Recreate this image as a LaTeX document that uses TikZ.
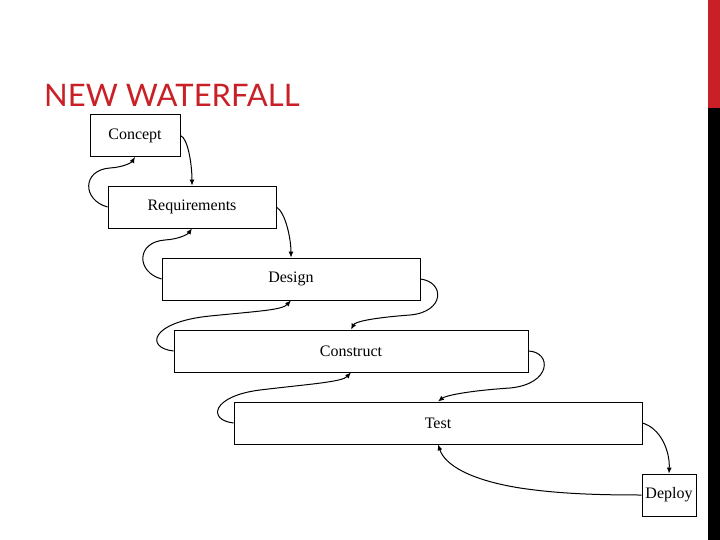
\documentclass[tikz,border=0pt]{standalone}
\usepackage{fontspec}
\setmainfont{Liberation Serif}
\newfontfamily\titlefont{Lato}
\usetikzlibrary{arrows.meta}
\definecolor{titlered}{RGB}{200,32,38}
\begin{document}
\begin{tikzpicture}[x=1pt,y=-1pt,
  stage/.style={draw,line width=0.8pt,minimum height=42pt,inner sep=0pt,font=\fontsize{16}{18}\selectfont},
  flow/.style={line width=1pt,-{Latex[length=6pt,width=5pt]}}]
\useasboundingbox (0,0) rectangle (720,540);
\fill[titlered] (708,0) rectangle (720,108);
\fill[black] (708,108) rectangle (720,540);
\node[anchor=base west,text=titlered,inner sep=0pt,font=\titlefont\fontsize{31}{34}\selectfont] (title) at (44,107) {NEW WATERFALL};
\node[stage,minimum width=90pt] (c) at (135,135.5) {Concept};
\node[stage,minimum width=168pt] (r) at (192,207) {Requirements};
\node[stage,minimum width=258pt] (d) at (291,279) {Design};
\node[stage,minimum width=354pt] (k) at (351,351) {Construct};
\node[stage,minimum width=408pt] (t) at (438,423) {Test};
\node[stage,minimum width=54pt] (p) at (669,495) {Deploy};
% forward
\draw[flow] (c.east) .. controls (188,138) and (192,165) .. (r.north);
\draw[flow] (r.east) .. controls (286,213) and (291,240) .. (d.north);
\draw[flow] (d.east) .. controls (445,282) and (445,312) .. (410,315) .. controls (370,318) and (355,322) .. (k.north);
\draw[flow] (k.east) .. controls (552,352) and (552,384) .. (510,388) .. controls (465,391) and (445,396) .. (t.north);
\draw[flow] (t.east) .. controls (660,428) and (670,450) .. (p.north);
% backward
\draw[flow] (r.west) .. controls (82,200) and (82,170) .. (110,168) .. controls (125,167) and (132,162) .. (c.south);
\draw[flow] (d.west) .. controls (136,272) and (136,242) .. (165,240) .. controls (180,239) and (188,234) .. (r.south);
\draw[flow] (k.west) .. controls (145,348) and (150,322) .. (210,316) .. controls (260,311) and (282,310) .. (d.south);
\draw[flow] (t.west) .. controls (207,420) and (212,396) .. (260,390) .. controls (310,384) and (342,382) .. (k.south);
\draw[flow] (p.west) .. controls (600,495) and (560,494) .. (520,488) .. controls (470,480) and (445,465) .. (t.south);
\end{tikzpicture}
\end{document}
